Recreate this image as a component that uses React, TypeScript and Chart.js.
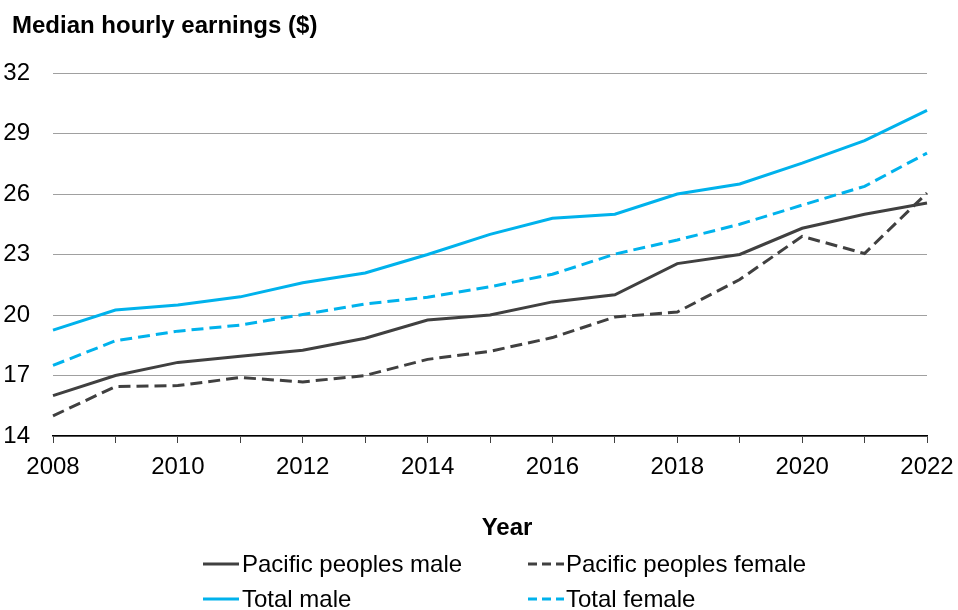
import React, { useEffect, useRef } from "react";
import { Chart, registerables } from "chart.js";

Chart.register(...registerables);

const years = ["2008", "2009", "2010", "2011", "2012", "2013", "2014", "2015", "2016", "2017", "2018", "2019", "2020", "2021", "2022"];
const pacificMale = [16.0, 17.0, 17.65, 17.95, 18.25, 18.85, 19.75, 20.0, 20.65, 21.0, 22.55, 23.0, 24.3, 25.0, 25.55];
const pacificFemale = [15.0, 16.45, 16.5, 16.9, 16.68, 17.0, 17.8, 18.2, 18.88, 19.9, 20.15, 21.76, 23.9, 23.05, 26.05];
const totalMale = [19.25, 20.25, 20.5, 20.9, 21.6, 22.08, 23.0, 24.0, 24.8, 25.0, 26.0, 26.5, 27.53, 28.65, 30.15];
const totalFemale = [17.5, 18.72, 19.2, 19.5, 20.02, 20.55, 20.88, 21.4, 22.02, 23.02, 23.72, 24.5, 25.45, 26.38, 28.03];
const yTicks = [14, 17, 20, 23, 26, 29, 32];

const DARK = "#404040";
const CYAN = "#00B2EC";
const FONT = "'Liberation Sans', Arial, sans-serif";
const DASH = [12, 6];

const legendItems = [
  { label: "Pacific peoples male", color: DARK, dash: [] as number[], col: 0, row: 0 },
  { label: "Pacific peoples female", color: DARK, dash: [9, 5], col: 1, row: 0 },
  { label: "Total male", color: CYAN, dash: [] as number[], col: 0, row: 1 },
  { label: "Total female", color: CYAN, dash: [9, 5], col: 1, row: 1 },
];

const decorPlugin = {
  id: "decor",
  afterDraw(chart: any) {
    const ctx = chart.ctx as CanvasRenderingContext2D;
    ctx.save();
    ctx.fillStyle = "#000";
    ctx.textBaseline = "alphabetic";
    ctx.textAlign = "left";
    ctx.font = `bold 24px ${FONT}`;
    ctx.fillText("Median hourly earnings ($)", 12, 33);
    ctx.textAlign = "center";
    ctx.fillText("Year", 507, 535);

    ctx.font = `24px ${FONT}`;
    ctx.textAlign = "left";
    const colLine = [203, 528];
    const colText = [242, 566];
    const rowText = [571.5, 606.5];
    const rowLine = [564, 599];
    legendItems.forEach((it) => {
      ctx.beginPath();
      ctx.setLineDash(it.dash);
      ctx.lineWidth = 3;
      ctx.strokeStyle = it.color;
      ctx.moveTo(colLine[it.col], rowLine[it.row]);
      ctx.lineTo(colLine[it.col] + 36, rowLine[it.row]);
      ctx.stroke();
      ctx.setLineDash([]);
      ctx.fillStyle = "#000";
      ctx.fillText(it.label, colText[it.col], rowText[it.row]);
    });
    ctx.restore();
  },
};

export default function App() {
  const ref = useRef<HTMLCanvasElement | null>(null);

  useEffect(() => {
    if (!ref.current) return;
    Chart.defaults.font.family = FONT;
    const chart = new Chart(ref.current, {
      type: "line",
      data: {
        labels: years,
        datasets: [
          { label: "Pacific peoples male", data: pacificMale, borderColor: DARK, borderWidth: 3, pointRadius: 0, tension: 0 },
          { label: "Pacific peoples female", data: pacificFemale, borderColor: DARK, borderWidth: 3, borderDash: DASH, pointRadius: 0, tension: 0 },
          { label: "Total male", data: totalMale, borderColor: CYAN, borderWidth: 3, pointRadius: 0, tension: 0 },
          { label: "Total female", data: totalFemale, borderColor: CYAN, borderWidth: 3, borderDash: DASH, pointRadius: 0, tension: 0 },
        ],
      },
      options: {
        responsive: false,
        animation: false,
        devicePixelRatio: 1,
        layout: { padding: { top: 73, left: 0, right: 31, bottom: 0 } },
        plugins: {
          legend: { display: false },
          title: { display: false },
          tooltip: { enabled: false },
        },
        scales: {
          x: {
            type: "category",
            offset: false,
            grid: { display: true, drawOnChartArea: false, drawTicks: true, tickLength: 7, color: DARK, lineWidth: 1 },
            border: { display: true, color: "#000", width: 1.5 },
            ticks: {
              autoSkip: false,
              maxRotation: 0,
              minRotation: 0,
              padding: 10,
              color: "#000",
              font: { size: 24, family: FONT },
              callback: (_v: any, i: number) => (i % 2 === 0 ? years[i] : ""),
            },
            afterFit: (s: any) => {
              s.height = 174;
              s.paddingLeft = 0;
              s.paddingRight = 0;
            },
          },
          y: {
            min: 14,
            max: 32,
            afterBuildTicks: (s: any) => {
              s.ticks = yTicks.map((v) => ({ value: v }));
            },
            grid: { color: "#A0A0A0", lineWidth: 1, drawTicks: false },
            border: { display: false },
            ticks: {
              padding: 23,
              color: "#000",
              font: { size: 24, family: FONT },
            },
            afterFit: (s: any) => {
              s.width = 53;
              s.paddingTop = 0;
              s.paddingBottom = 0;
            },
          },
        },
      },
      plugins: [decorPlugin],
    });
    return () => chart.destroy();
  }, []);

  return (
    <div style={{ position: "fixed", left: 0, top: 0, width: 958, height: 610, background: "#fff" }}>
      <canvas ref={ref} width={958} height={610} style={{ display: "block", width: 958, height: 610 }} />
    </div>
  );
}
